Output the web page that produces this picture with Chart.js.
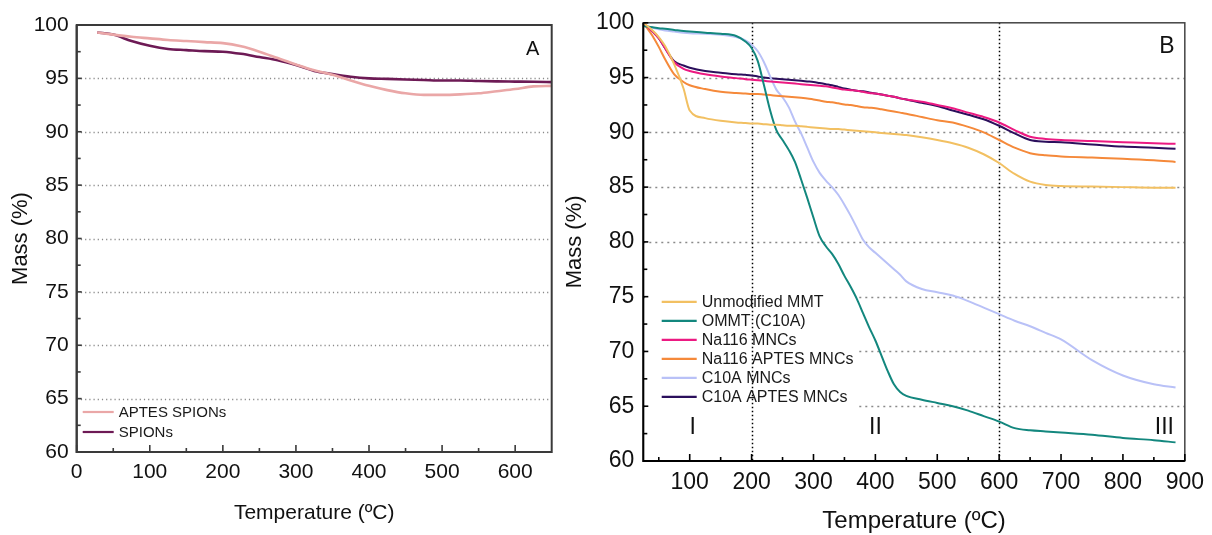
<!DOCTYPE html>
<html>
<head>
<meta charset="utf-8">
<script src="https://cdn.jsdelivr.net/npm/chart.js@4.4.0/dist/chart.umd.min.js"></script>
<style>
  body { margin: 0; background: #fff; width: 1212px; height: 535px; overflow: hidden; position: relative; }
  .wrap { position: absolute; top: 0; height: 535px; }
  #wa { left: 0; width: 560px; }
  #wb { left: 560px; width: 652px; }
</style>
</head>
<body>
<div class="wrap" id="wa"><canvas id="ca" width="560" height="535"></canvas></div>
<div class="wrap" id="wb"><canvas id="cb" width="652" height="535"></canvas></div>
<script>
// ---- panel A: SPIONs ----
const tempA = [28, 50, 75, 100, 125, 150, 175, 200, 225, 250, 275, 300, 325, 350, 375, 400, 425, 450, 475, 500, 525, 550, 575, 600, 625, 650];
const aptesSpions = [99.3, 99.1, 98.9, 98.75, 98.6, 98.5, 98.4, 98.3, 98.0, 97.5, 96.9, 96.3, 95.75, 95.35, 94.8, 94.3, 93.9, 93.6, 93.45, 93.45, 93.5, 93.6, 93.8, 94.0, 94.25, 94.3];
const spions = [99.3, 99.1, 98.5, 98.05, 97.75, 97.65, 97.55, 97.5, 97.3, 97.0, 96.7, 96.25, 95.7, 95.4, 95.15, 95.0, 94.95, 94.9, 94.85, 94.8, 94.8, 94.75, 94.72, 94.7, 94.68, 94.65];
const xTicksA = [0, 100, 200, 300, 400, 500, 600];

// ---- panel B: clays and MNCs ----
const tempB = [25, 40, 50, 60, 75, 90, 100, 125, 150, 175, 190,
  200, 210, 220, 230, 240, 250, 260, 270, 280, 290,
  300, 310, 320, 330, 340, 350, 360, 370, 380, 390,
  400, 410, 420, 430, 440, 450,
  475, 500, 525, 550, 575, 600, 625, 650, 675, 700,
  750, 800, 850, 885];
const unmodifiedMmt = [100, 99.3, 98.7, 97.9, 96.2, 94.0, 92.0, 91.3, 91.05, 90.9, 90.85,
  90.8, 90.8, 90.75, 90.7, 90.7, 90.65, 90.6, 90.6, 90.55, 90.5,
  90.45, 90.4, 90.35, 90.3, 90.3, 90.25, 90.2, 90.15, 90.1, 90.05,
  90.0, 89.95, 89.9, 89.85, 89.8, 89.75,
  89.55, 89.3, 89.0, 88.6, 88.0, 87.2, 86.2, 85.5, 85.2, 85.1,
  85.05, 85.0, 84.95, 84.95];
const ommt = [99.7, 99.6, 99.5, 99.45, 99.35, 99.25, 99.2, 99.1, 99.0, 98.8, 98.3,
  97.7, 96.5, 94.3, 92.0, 90.2, 89.3, 88.4, 87.3, 85.7, 84.0,
  82.2, 80.5, 79.6, 78.9, 78.0, 76.9, 75.9, 74.8, 73.5, 72.2,
  71.0, 69.6, 68.2, 67.0, 66.3, 65.95,
  65.6, 65.3, 65.0, 64.6, 64.1, 63.6, 63.0, 62.8, 62.7, 62.6,
  62.4, 62.1, 61.9, 61.7];
const na116 = [100, 99.2, 98.6, 97.7, 96.4, 95.8, 95.6, 95.3, 95.1, 94.95, 94.85,
  94.8, 94.75, 94.7, 94.65, 94.6, 94.55, 94.5, 94.45, 94.4, 94.35,
  94.3, 94.25, 94.2, 94.1, 94.0, 93.9, 93.85, 93.8, 93.7, 93.6,
  93.55, 93.45, 93.35, 93.25, 93.1, 93.0,
  92.8, 92.5, 92.2, 91.8, 91.4, 90.9, 90.2, 89.6, 89.4, 89.3,
  89.2, 89.1, 89.0, 88.95];
const na116Aptes = [100, 98.8, 97.8, 96.7, 95.3, 94.6, 94.3, 93.95, 93.7, 93.6, 93.55,
  93.5, 93.5, 93.45, 93.4, 93.35, 93.3, 93.25, 93.2, 93.15, 93.1,
  93.0, 92.9, 92.8, 92.75, 92.65, 92.55, 92.5, 92.4, 92.3, 92.25,
  92.2, 92.1, 92.0, 91.9, 91.8, 91.7,
  91.4, 91.1, 90.9, 90.5, 90.0, 89.3, 88.6, 88.1, 87.9, 87.8,
  87.7, 87.6, 87.45, 87.3];
const c10a = [99.8, 99.55, 99.4, 99.3, 99.2, 99.1, 99.05, 99.0, 98.9, 98.7, 98.4,
  98.0, 97.4, 96.4, 95.1, 93.9, 93.2, 92.3, 91.0, 89.9, 88.6,
  87.3, 86.3, 85.6, 85.0, 84.3, 83.4, 82.4, 81.3, 80.2, 79.5,
  79.0, 78.5, 78.0, 77.5, 77.0, 76.4,
  75.7, 75.4, 75.1, 74.6, 74.0, 73.4, 72.8, 72.3, 71.7, 71.1,
  69.2, 67.8, 67.0, 66.7];
const c10aAptes = [100, 99.2, 98.6, 97.7, 96.5, 96.1, 95.9, 95.6, 95.45, 95.3, 95.25,
  95.2, 95.1, 95.0, 94.95, 94.9, 94.85, 94.8, 94.75, 94.7, 94.65,
  94.6, 94.5, 94.4, 94.3, 94.15, 94.0, 93.9, 93.8, 93.75, 93.65,
  93.55, 93.45, 93.35, 93.25, 93.1, 93.0,
  92.7, 92.4, 92.0, 91.6, 91.2, 90.6, 89.9, 89.3, 89.15, 89.1,
  88.9, 88.7, 88.6, 88.5];
const xTicksB = [100, 200, 300, 400, 500, 600, 700, 800, 900];
const stageLabels = ['I', 'II', 'III'];
const stageX = [105, 400, 867];

const yTicks = [60, 65, 70, 75, 80, 85, 90, 95, 100];
const FONT = "'Liberation Sans', Arial, sans-serif";

function pts(xs, ys) { return xs.map((t, i) => ({x: t, y: ys[i]})); }

function line(label, xs, ys, color, w) {
  return {
    label, data: pts(xs, ys), borderColor: color, backgroundColor: color,
    borderWidth: w, pointRadius: 0, fill: false, cubicInterpolationMode: 'monotone'
  };
}

// dotted grid, inward ticks, frame, in-plot legend and labels
const framePlugin = {
  id: 'frame',
  beforeDatasetsDraw(chart, args, o) {
    const {ctx, chartArea: a, scales: {x, y}} = chart;
    ctx.save();
    ctx.strokeStyle = '#8a8a8a';
    ctx.lineWidth = 1.3;
    ctx.setLineDash(o.hDash);
    o.hGrid.forEach(v => {
      const py = Math.round(y.getPixelForValue(v)) + 0.5;
      ctx.beginPath(); ctx.moveTo(a.left, py); ctx.lineTo(a.right, py); ctx.stroke();
    });
    ctx.setLineDash([]);
    if (o.legendBox) {
      ctx.fillStyle = '#fff';
      ctx.fillRect(a.left + 2, a.top + o.legendTop - 14, o.legendBox, o.legendRow * chart.data.datasets.length + 18);
    }
    ctx.strokeStyle = '#000';
    ctx.lineWidth = 1.5;
    ctx.setLineDash([1.5, 2.5]);
    o.vGrid.forEach(v => {
      const px = Math.round(x.getPixelForValue(v)) + 0.5;
      ctx.beginPath(); ctx.moveTo(px, a.top); ctx.lineTo(px, a.bottom); ctx.stroke();
    });
    ctx.restore();
  },
  afterDatasetsDraw(chart, args, o) {
    const {ctx, chartArea: a, scales: {x, y}} = chart;
    ctx.save();
    // frame
    ctx.strokeStyle = o.frameColor;
    ctx.lineWidth = o.sideWidth;
    ctx.strokeRect(a.left, a.top, a.right - a.left, a.bottom - a.top);
    ctx.strokeStyle = o.axisColor;
    ctx.lineWidth = 2;
    ctx.beginPath();
    ctx.moveTo(a.left, a.top); ctx.lineTo(a.left, a.bottom); ctx.lineTo(a.right, a.bottom);
    ctx.stroke();
    // inward ticks
    ctx.lineWidth = 1.6;
    const xt = chart.options.scales.x.tickList;
    xt.forEach(v => {
      const px = x.getPixelForValue(v);
      ctx.beginPath(); ctx.moveTo(px, a.bottom); ctx.lineTo(px, a.bottom - 7); ctx.stroke();
      const m = x.getPixelForValue(v + 50);
      if (v + 50 < x.max) { ctx.beginPath(); ctx.moveTo(m, a.bottom); ctx.lineTo(m, a.bottom - 4); ctx.stroke(); }
      const m0 = x.getPixelForValue(v - 50);
      if (v - 50 > x.min && xt.indexOf(v - 100) < 0) { ctx.beginPath(); ctx.moveTo(m0, a.bottom); ctx.lineTo(m0, a.bottom - 4); ctx.stroke(); }
    });
    yTicks.forEach(v => {
      const py = y.getPixelForValue(v);
      ctx.beginPath(); ctx.moveTo(a.left, py); ctx.lineTo(a.left + 5, py); ctx.stroke();
      if (v < 100) {
        const m = y.getPixelForValue(v + 2.5);
        ctx.beginPath(); ctx.moveTo(a.left, m); ctx.lineTo(a.left + 4, m); ctx.stroke();
      }
    });
    // legend
    ctx.font = o.legendFont;
    ctx.textBaseline = 'middle';
    ctx.textAlign = 'left';
    chart.data.datasets.forEach((d, i) => {
      const ly = a.top + o.legendTop + i * o.legendRow;
      ctx.strokeStyle = d.borderColor;
      ctx.lineWidth = 2.2;
      ctx.beginPath(); ctx.moveTo(a.left + o.legendX, ly); ctx.lineTo(a.left + o.legendX + o.legendLen, ly); ctx.stroke();
      ctx.fillStyle = '#1a1a1a';
      ctx.fillText(d.label, a.left + o.legendX + o.legendLen + 5, ly + 1);
    });
    // panel letter
    ctx.font = o.letterFont;
    ctx.textAlign = 'center';
    ctx.fillStyle = '#111';
    ctx.fillText(o.letter, a.right - o.letterDx, a.top + 24);
    // stage labels
    if (o.stages) {
      ctx.font = '23px ' + FONT;
      o.stages.forEach((s, i) => {
        ctx.fillText(s, x.getPixelForValue(o.stageX[i]), y.getPixelForValue(63));
      });
    }
    ctx.restore();
  }
};

function axes(p) {
  return {
    x: {
      type: 'linear', min: p.xMin, max: p.xMax, tickList: p.xTicks,
      grid: {display: false, drawTicks: false}, border: {display: false},
      afterBuildTicks: s => { s.ticks = p.xTicks.map(v => ({value: v})); },
      afterFit: s => { s.height = p.xH; },
      ticks: {font: {family: FONT, size: p.tickSize}, color: '#111', padding: p.xPad, maxRotation: 0, autoSkip: false},
      title: {display: true, text: 'Temperature (ºC)', color: '#111',
        font: {family: FONT, size: p.xTitleSize, lineHeight: 1.1}, padding: {top: 0, bottom: p.xTitlePad}}
    },
    y: {
      type: 'linear', min: 60, max: 100,
      grid: {display: false, drawTicks: false}, border: {display: false},
      afterBuildTicks: s => { s.ticks = yTicks.map(v => ({value: v})); },
      afterFit: s => { s.width = p.yW; },
      ticks: {font: {family: FONT, size: p.tickSize}, color: '#111', padding: p.yPad},
      title: {display: true, text: 'Mass (%)', color: '#111',
        font: {family: FONT, size: p.yTitleSize, lineHeight: 1.1}, padding: {top: p.yTitlePad, bottom: 0}}
    }
  };
}

new Chart(document.getElementById('ca'), {
  type: 'line',
  data: {
    datasets: [
      line('APTES SPIONs', tempA, aptesSpions, '#eaa7a7', 2.6),
      line('SPIONs', tempA, spions, '#6d1a55', 2.6)
    ]
  },
  options: {
    responsive: false, animation: false,
    layout: {padding: {top: 25, right: 8.3, left: 0, bottom: 0}},
    scales: axes({xMin: 0, xMax: 650, xTicks: xTicksA, xH: 83, yW: 76.7, tickSize: 21,
      xPad: 8, yPad: 8, xTitleSize: 21, xTitlePad: 10, yTitleSize: 22, yTitlePad: 9}),
    plugins: {
      legend: {display: false}, tooltip: {enabled: false},
      frame: {hGrid: [65, 70, 75, 80, 85, 90, 95], vGrid: [], hDash: [1.2, 3],
        frameColor: '#3a3a3a', axisColor: '#3a3a3a', sideWidth: 2,
        legendFont: '15px ' + FONT, legendTop: 387, legendRow: 20, legendX: 6, legendLen: 31,
        letter: 'A', letterFont: '20px ' + FONT, letterDx: 19}
    }
  },
  plugins: [framePlugin]
});

new Chart(document.getElementById('cb'), {
  type: 'line',
  data: {
    datasets: [
      line('Unmodified MMT', tempB, unmodifiedMmt, '#f2c062', 2),
      line('OMMT (C10A)', tempB, ommt, '#13877e', 2),
      line('Na116 MNCs', tempB, na116, '#ec1a82', 2),
      line('Na116 APTES MNCs', tempB, na116Aptes, '#f5893a', 2),
      line('C10A MNCs', tempB, c10a, '#b9c1f7', 2),
      line('C10A APTES MNCs', tempB, c10aAptes, '#2b0f5c', 2)
    ]
  },
  options: {
    responsive: false, animation: false,
    layout: {padding: {top: 21, right: 22, left: 0, bottom: 0}},
    scales: axes({xMin: 25, xMax: 900, xTicks: xTicksB, xH: 74, yW: 83.3, tickSize: 23,
      xPad: 8, yPad: 9, xTitleSize: 24, xTitlePad: 0, yTitleSize: 22, yTitlePad: 3}),
    plugins: {
      legend: {display: false}, tooltip: {enabled: false},
      frame: {hGrid: [65, 70, 75, 80, 85, 90, 95], vGrid: [200, 600], hDash: [2, 4],
        frameColor: '#444', axisColor: '#000', sideWidth: 1.5,
        legendFont: '16px ' + FONT, legendTop: 279, legendRow: 19, legendX: 18.4, legendLen: 35,
        legendBox: 213,
        letter: 'B', letterFont: '23px ' + FONT, letterDx: 18,
        stages: stageLabels, stageX: stageX}
    }
  },
  plugins: [framePlugin]
});
</script>
</body>
</html>
